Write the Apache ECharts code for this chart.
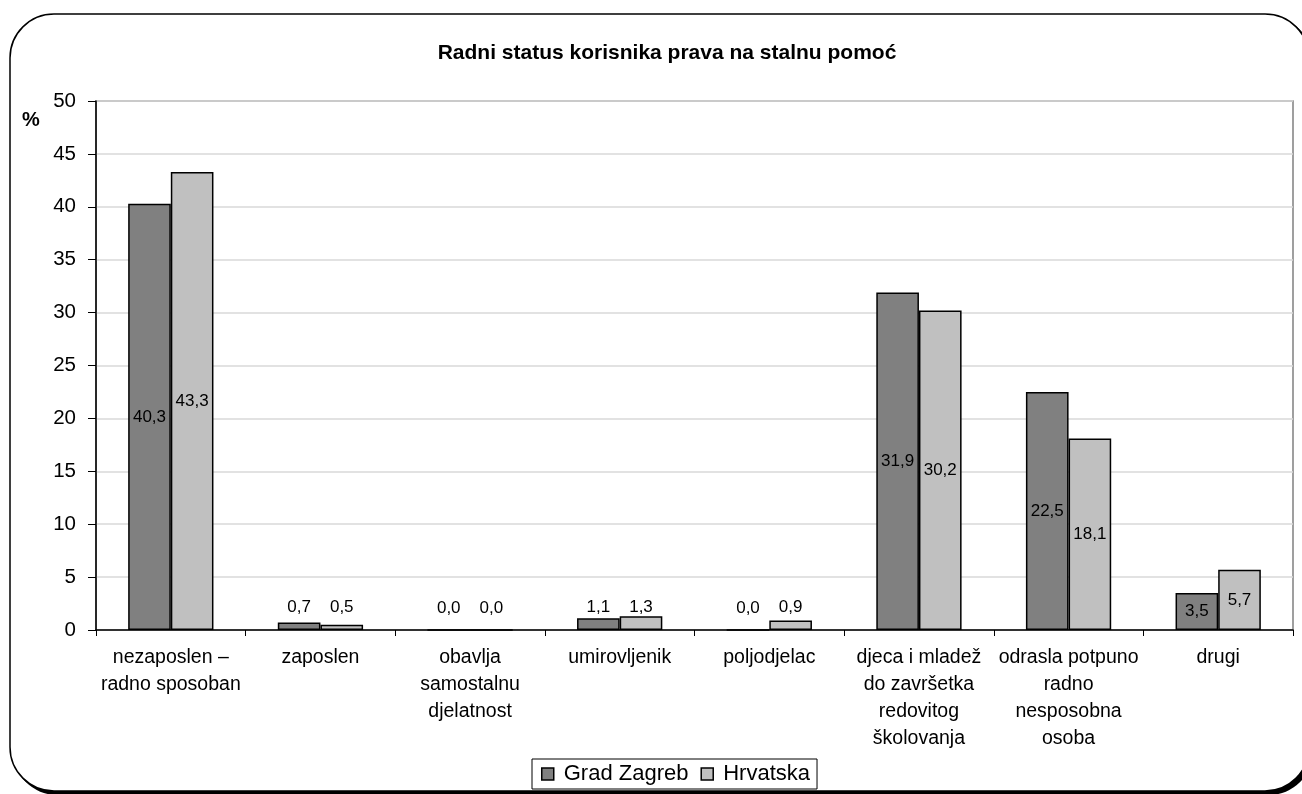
<!DOCTYPE html>
<html>
<head>
<meta charset="utf-8">
<script src="https://cdn.jsdelivr.net/npm/echarts@6/dist/echarts.min.js"></script>
<style>html,body{margin:0;padding:0;background:#fff;}#c{width:1302px;height:794px;}</style>
</head>
<body>
<div id="c"></div>
<script>
var titleText = 'Radni status korisnika prava na stalnu pomoć';
var categories = ['nezaposlen –\nradno sposoban', 'zaposlen', 'obavlja\nsamostalnu\ndjelatnost', 'umirovljenik', 'poljodjelac', 'djeca i mladež\ndo završetka\nredovitog\nškolovanja', 'odrasla potpuno\nradno\nnesposobna\nosoba', 'drugi'];
var seriesNames = ['Grad Zagreb', 'Hrvatska'];
var zagreb = [40.3, 0.7, 0.0, 1.1, 0.0, 31.9, 22.5, 3.5];
var hrvatska = [43.3, 0.5, 0.0, 1.3, 0.9, 30.2, 18.1, 5.7];
var yTicks = {min: 0, max: 50, interval: 5};

var FONT = 'Liberation Sans';
function fmt(v){ return v.toFixed(1).replace('.', ','); }
function toData(arr){
  return arr.map(function(v){
    if (v >= 3) return {value: v, label: {position: 'inside'}};
    return {value: v, label: {position: 'insideBottom', distance: 14}};
  });
}
var chart = echarts.init(document.getElementById('c'));
chart.setOption({
  backgroundColor: '#fff',
  animation: false,
  title: {
    text: titleText, left: 662, top: 38, textAlign: 'center',
    textStyle: {fontFamily: FONT, fontWeight: 'bold', fontSize: 21, color: '#000'}
  },
  graphic: [
    {type: 'rect', z: -2, shape: {x: 13, y: 17, width: 1300, height: 778, r: 44}, style: {fill: '#000'}},
    {type: 'rect', z: -1, shape: {x: 10, y: 14, width: 1299, height: 777, r: 44}, style: {fill: '#fff', stroke: '#000', lineWidth: 1.5}},
    {type: 'text', left: 22, top: 110, style: {text: '%', font: 'bold 20px "Liberation Sans"', fill: '#000'}}
  ],
  legend: {
    left: 532, top: 759, data: seriesNames,
    itemWidth: 12, itemHeight: 12, itemGap: 12, icon: 'rect',
    padding: [4, 7, 4, 9],
    borderColor: '#000', borderWidth: 1, borderRadius: 0,
    itemStyle: {borderColor: '#000', borderWidth: 1.5},
    textStyle: {fontFamily: FONT, fontSize: 22, color: '#000', padding: [0, 0, 0, 5]}
  },
  grid: {left: 96, right: 9, top: 101, bottom: 164, show: true, borderColor: '#808080', borderWidth: 1.5},
  xAxis: {
    type: 'category', data: categories,
    axisLine: {lineStyle: {color: '#000', width: 1.5}},
    axisTick: {show: true, length: 6, lineStyle: {color: '#000'}},
    axisLabel: {interval: 0, margin: 14, fontFamily: FONT, fontSize: 19.5, lineHeight: 27, color: '#000'}
  },
  yAxis: {
    type: 'value', min: yTicks.min, max: yTicks.max, interval: yTicks.interval,
    axisLine: {show: true, lineStyle: {color: '#000', width: 1.5}},
    axisTick: {show: true, length: 8, lineStyle: {color: '#000'}},
    axisLabel: {margin: 20, fontFamily: FONT, fontSize: 20.5, color: '#000'},
    splitLine: {show: true, lineStyle: {color: '#d9d9d9', width: 1.5}}
  },
  series: [
    {name: seriesNames[0], type: 'bar', data: toData(zagreb), barGap: '0%', barCategoryGap: '43%',
     itemStyle: {color: '#808080', borderColor: '#000', borderWidth: 1.5},
     label: {show: true, formatter: function(p){return fmt(p.value);}, fontFamily: FONT, fontSize: 17, color: '#000'}},
    {name: seriesNames[1], type: 'bar', data: toData(hrvatska), barGap: '0%', barCategoryGap: '43%',
     itemStyle: {color: '#c0c0c0', borderColor: '#000', borderWidth: 1.5},
     label: {show: true, formatter: function(p){return fmt(p.value);}, fontFamily: FONT, fontSize: 17, color: '#000'}}
  ]
});
</script>
</body>
</html>
